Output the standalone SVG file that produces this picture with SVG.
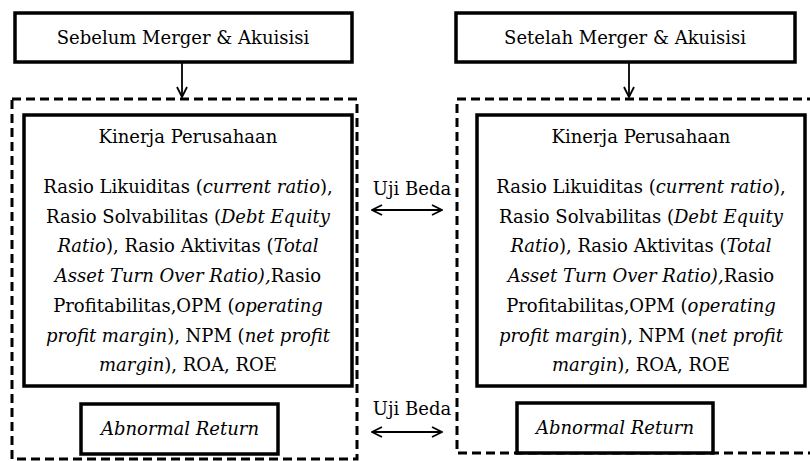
<svg xmlns="http://www.w3.org/2000/svg" width="810" height="461" viewBox="0 0 810 461">
<style>
text{font-family:"DejaVu Serif","Liberation Serif","Times New Roman",serif;font-size:18px;fill:#000;text-anchor:middle}
.i{font-style:italic}
.box{fill:#fff;stroke:#000;stroke-width:3.5}
.dash{fill:none;stroke:#000;stroke-width:3;stroke-dasharray:9,5}
.ln{fill:none;stroke:#000;stroke-width:1.8}
</style>
<defs>
<marker id="ah" viewBox="0 0 12 12" refX="11" refY="6" markerWidth="12" markerHeight="12" markerUnits="userSpaceOnUse" orient="auto-start-reverse">
<path d="M1,1 L11,6 L1,11" fill="none" stroke="#000" stroke-width="1.8"/>
</marker>
</defs>
<g id="before-container"><rect class="dash" x="12" y="99" width="345" height="360"/></g>
<g id="after-container"><rect class="dash" x="457" y="99" width="360" height="354"/></g>
<g id="connectors">
<line class="ln" x1="182" y1="62" x2="182" y2="97" marker-end="url(#ah)"/>
<line class="ln" x1="629" y1="62" x2="629" y2="97" marker-end="url(#ah)"/>
<line class="ln" x1="372" y1="210" x2="442" y2="210" marker-start="url(#ah)" marker-end="url(#ah)"/>
<line class="ln" x1="372" y1="432" x2="442" y2="432" marker-start="url(#ah)" marker-end="url(#ah)"/>
<text x="412" y="195">Uji Beda</text>
<text x="412" y="415">Uji Beda</text>
</g>
<g id="before"><rect class="box" x="15" y="13" width="337" height="49" stroke-width="3"/><text x="183" y="44">Sebelum Merger &amp; Akuisisi</text></g>
<g id="after"><rect class="box" x="456" y="13" width="339" height="49" stroke-width="3"/><text x="625" y="44">Setelah Merger &amp; Akuisisi</text></g>
<g id="kinerja-before">
<rect class="box" x="24" y="115" width="328" height="271"/>
<text x="188" y="143">Kinerja Perusahaan</text>
<text x="188" y="193">Rasio Likuiditas (<tspan class="i">current ratio</tspan>),</text>
<text x="188" y="223">Rasio Solvabilitas (<tspan class="i">Debt Equity</tspan></text>
<text x="188" y="252"><tspan class="i">Ratio</tspan>), Rasio Aktivitas (<tspan class="i">Total</tspan></text>
<text x="188" y="282"><tspan class="i">Asset Turn Over Ratio),</tspan>Rasio</text>
<text x="188" y="312">Profitabilitas,OPM (<tspan class="i">operating</tspan></text>
<text x="188" y="342"><tspan class="i">profit margin</tspan>), NPM (<tspan class="i">net profit</tspan></text>
<text x="188" y="371"><tspan class="i">margin</tspan>), ROA, ROE</text>
</g>
<g id="kinerja-after">
<rect class="box" x="477" y="115" width="328" height="271"/>
<text x="641" y="143">Kinerja Perusahaan</text>
<text x="641" y="193">Rasio Likuiditas (<tspan class="i">current ratio</tspan>),</text>
<text x="641" y="223">Rasio Solvabilitas (<tspan class="i">Debt Equity</tspan></text>
<text x="641" y="252"><tspan class="i">Ratio</tspan>), Rasio Aktivitas (<tspan class="i">Total</tspan></text>
<text x="641" y="282"><tspan class="i">Asset Turn Over Ratio),</tspan>Rasio</text>
<text x="641" y="312">Profitabilitas,OPM (<tspan class="i">operating</tspan></text>
<text x="641" y="342"><tspan class="i">profit margin</tspan>), NPM (<tspan class="i">net profit</tspan></text>
<text x="641" y="371"><tspan class="i">margin</tspan>), ROA, ROE</text>
</g>
<g id="ar-before"><rect class="box" x="81" y="404" width="197" height="50" stroke-width="4"/><text class="i" x="180" y="435">Abnormal Return</text></g>
<g id="ar-after"><rect class="box" x="517" y="403" width="196" height="50" stroke-width="4"/><text class="i" x="615" y="434">Abnormal Return</text></g>
</svg>
